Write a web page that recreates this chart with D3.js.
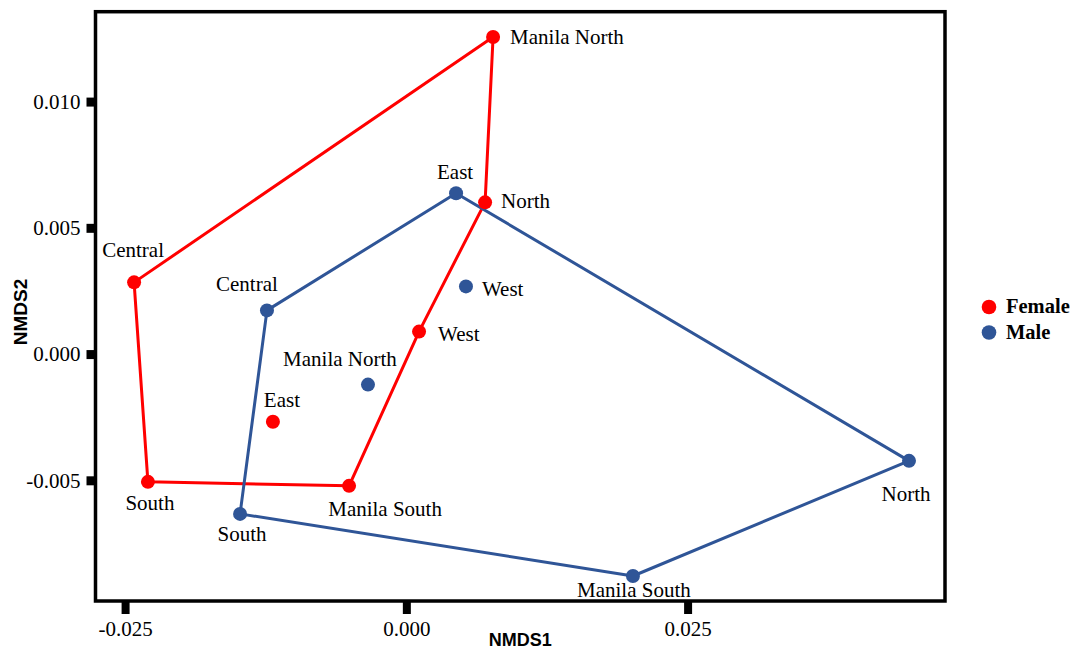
<!DOCTYPE html>
<html>
<head>
<meta charset="utf-8">
<script src="https://cdn.jsdelivr.net/npm/d3@7"></script>
<style>
  html, body { margin: 0; padding: 0; background: #fff; }
  svg { display: block; }
</style>
</head>
<body>
<svg id="chart" width="1074" height="651"></svg>
<script>
// ---- data ----
const sites = ["Manila North", "North", "West", "Manila South", "South", "Central", "East"];
const femaleX = [0.00771, 0.00700, 0.00113, -0.00509, -0.02297, -0.02420, -0.01186];
const femaleY = [0.01256, 0.00601, 0.00089, -0.00522, -0.00506, 0.00284, -0.00268];
const maleX   = [-0.00341, 0.04468, 0.00530, 0.02014, -0.01478, -0.01239, 0.00442];
const maleY   = [-0.00121, -0.00423, 0.00268, -0.00879, -0.00633, 0.00173, 0.00637];
const femaleHull = ["Manila North", "North", "West", "Manila South", "South", "Central"];
const maleHull   = ["East", "North", "Manila South", "South", "Central"];
const groups = ["Female", "Male"];
const xTicks = [-0.025, 0, 0.025];
const xTickLabels = ["-0.025", "0.000", "0.025"];
const yTicks = [-0.005, 0, 0.005, 0.010];
const yTickLabels = ["-0.005", "0.000", "0.005", "0.010"];

// label nudges (pixels) per site: [anchor, dx, dy]
const femaleLabelNudge = {
  "Manila North": ["start", 17, 7], "North": ["start", 16, 6], "West": ["start", 19, 9],
  "Manila South": ["middle", 36, 30], "South": ["middle", 2, 28], "Central": ["middle", -1, -25],
  "East": ["middle", 9, -15]
};
const maleLabelNudge = {
  "Manila North": ["middle", -28, -19], "North": ["middle", -3, 40], "West": ["start", 16, 10],
  "Manila South": ["middle", 1, 21], "South": ["middle", 2, 27], "Central": ["middle", -20, -19],
  "East": ["middle", -1, -14]
};

const colors = { Female: "#ff0000", Male: "#2f5597" };

// ---- layout ----
const box = { left: 95.5, right: 945, top: 11.7, bottom: 601 };
const svg = d3.select("#chart");
const x = d3.scaleLinear().domain([-0.02763, 0.04788]).range([box.left, box.right]);
const y = d3.scaleLinear().domain([-0.00978, 0.01356]).range([box.bottom, box.top]);

const serif = "'Liberation Serif', 'Times New Roman', serif";
const sans = "'Liberation Sans', Arial, sans-serif";

function makePoints(xs, ys, group) {
  return sites.map((s, i) => ({ site: s, x: xs[i], y: ys[i], group }));
}
const female = makePoints(femaleX, femaleY, "Female");
const male = makePoints(maleX, maleY, "Male");

// axes
const yAxis = d3.axisLeft(y).tickValues(yTicks).tickSize(9).tickPadding(6)
  .tickFormat((d, i) => yTickLabels[i]);
const xAxis = d3.axisBottom(x).tickValues(xTicks).tickSize(13).tickPadding(7)
  .tickFormat((d, i) => xTickLabels[i]);

const gy = svg.append("g").attr("transform", `translate(${box.left},0)`).call(yAxis);
gy.attr("font-family", serif).attr("font-size", 21);
gy.select(".domain").remove();
gy.selectAll(".tick line").attr("stroke", "#000").attr("stroke-width", 9);
gy.selectAll(".tick text").attr("font-family", serif).attr("font-size", 21).attr("fill", "#000");

const gx = svg.append("g").attr("transform", `translate(0,${box.bottom})`).call(xAxis);
gx.attr("font-family", serif).attr("font-size", 21);
gx.select(".domain").remove();
gx.selectAll(".tick line").attr("stroke", "#000").attr("stroke-width", 8);
gx.selectAll(".tick text").attr("font-family", serif).attr("font-size", 21).attr("fill", "#000");

// panel border
svg.append("rect")
  .attr("x", box.left).attr("y", box.top)
  .attr("width", box.right - box.left).attr("height", box.bottom - box.top)
  .attr("fill", "none").attr("stroke", "#000").attr("stroke-width", 3.5);

// hull polygons
const line = d3.line().x(d => x(d.x)).y(d => y(d.y)).curve(d3.curveLinearClosed);
function hullPts(pts, order) { return order.map(n => pts.find(p => p.site === n)); }
svg.append("path").datum(hullPts(female, femaleHull)).attr("d", line)
  .attr("fill", "none").attr("stroke", colors.Female).attr("stroke-width", 3).attr("stroke-linejoin", "round");
svg.append("path").datum(hullPts(male, maleHull)).attr("d", line)
  .attr("fill", "none").attr("stroke", colors.Male).attr("stroke-width", 3).attr("stroke-linejoin", "round");

// points
svg.append("g").selectAll("circle").data(male.concat(female)).join("circle")
  .attr("cx", d => x(d.x)).attr("cy", d => y(d.y)).attr("r", 7)
  .attr("fill", d => colors[d.group]);

// labels
function addLabels(pts, nudge) {
  svg.append("g").selectAll("text").data(pts).join("text")
    .attr("x", d => x(d.x) + nudge[d.site][1])
    .attr("y", d => y(d.y) + nudge[d.site][2])
    .attr("text-anchor", d => nudge[d.site][0])
    .attr("font-family", serif).attr("font-size", 21).attr("fill", "#000")
    .text(d => d.site);
}
addLabels(female, femaleLabelNudge);
addLabels(male, maleLabelNudge);

// axis titles
svg.append("text").attr("x", (box.left + box.right) / 2).attr("y", 646)
  .attr("text-anchor", "middle").attr("font-family", sans).attr("font-weight", "bold")
  .attr("font-size", 18).text("NMDS1");
svg.append("text").attr("transform", "translate(27,312) rotate(-90)")
  .attr("text-anchor", "middle").attr("font-family", sans).attr("font-weight", "bold")
  .attr("font-size", 19).text("NMDS2");

// legend
const legend = svg.append("g");
groups.forEach((g, i) => {
  const cy = 307 + i * 25.5;
  legend.append("circle").attr("cx", 989).attr("cy", cy).attr("r", 7.3).attr("fill", colors[g]);
  legend.append("text").attr("x", 1006).attr("y", cy + 6)
    .attr("font-family", serif).attr("font-weight", "bold").attr("font-size", 20.5).text(g);
});
</script>
</body>
</html>
